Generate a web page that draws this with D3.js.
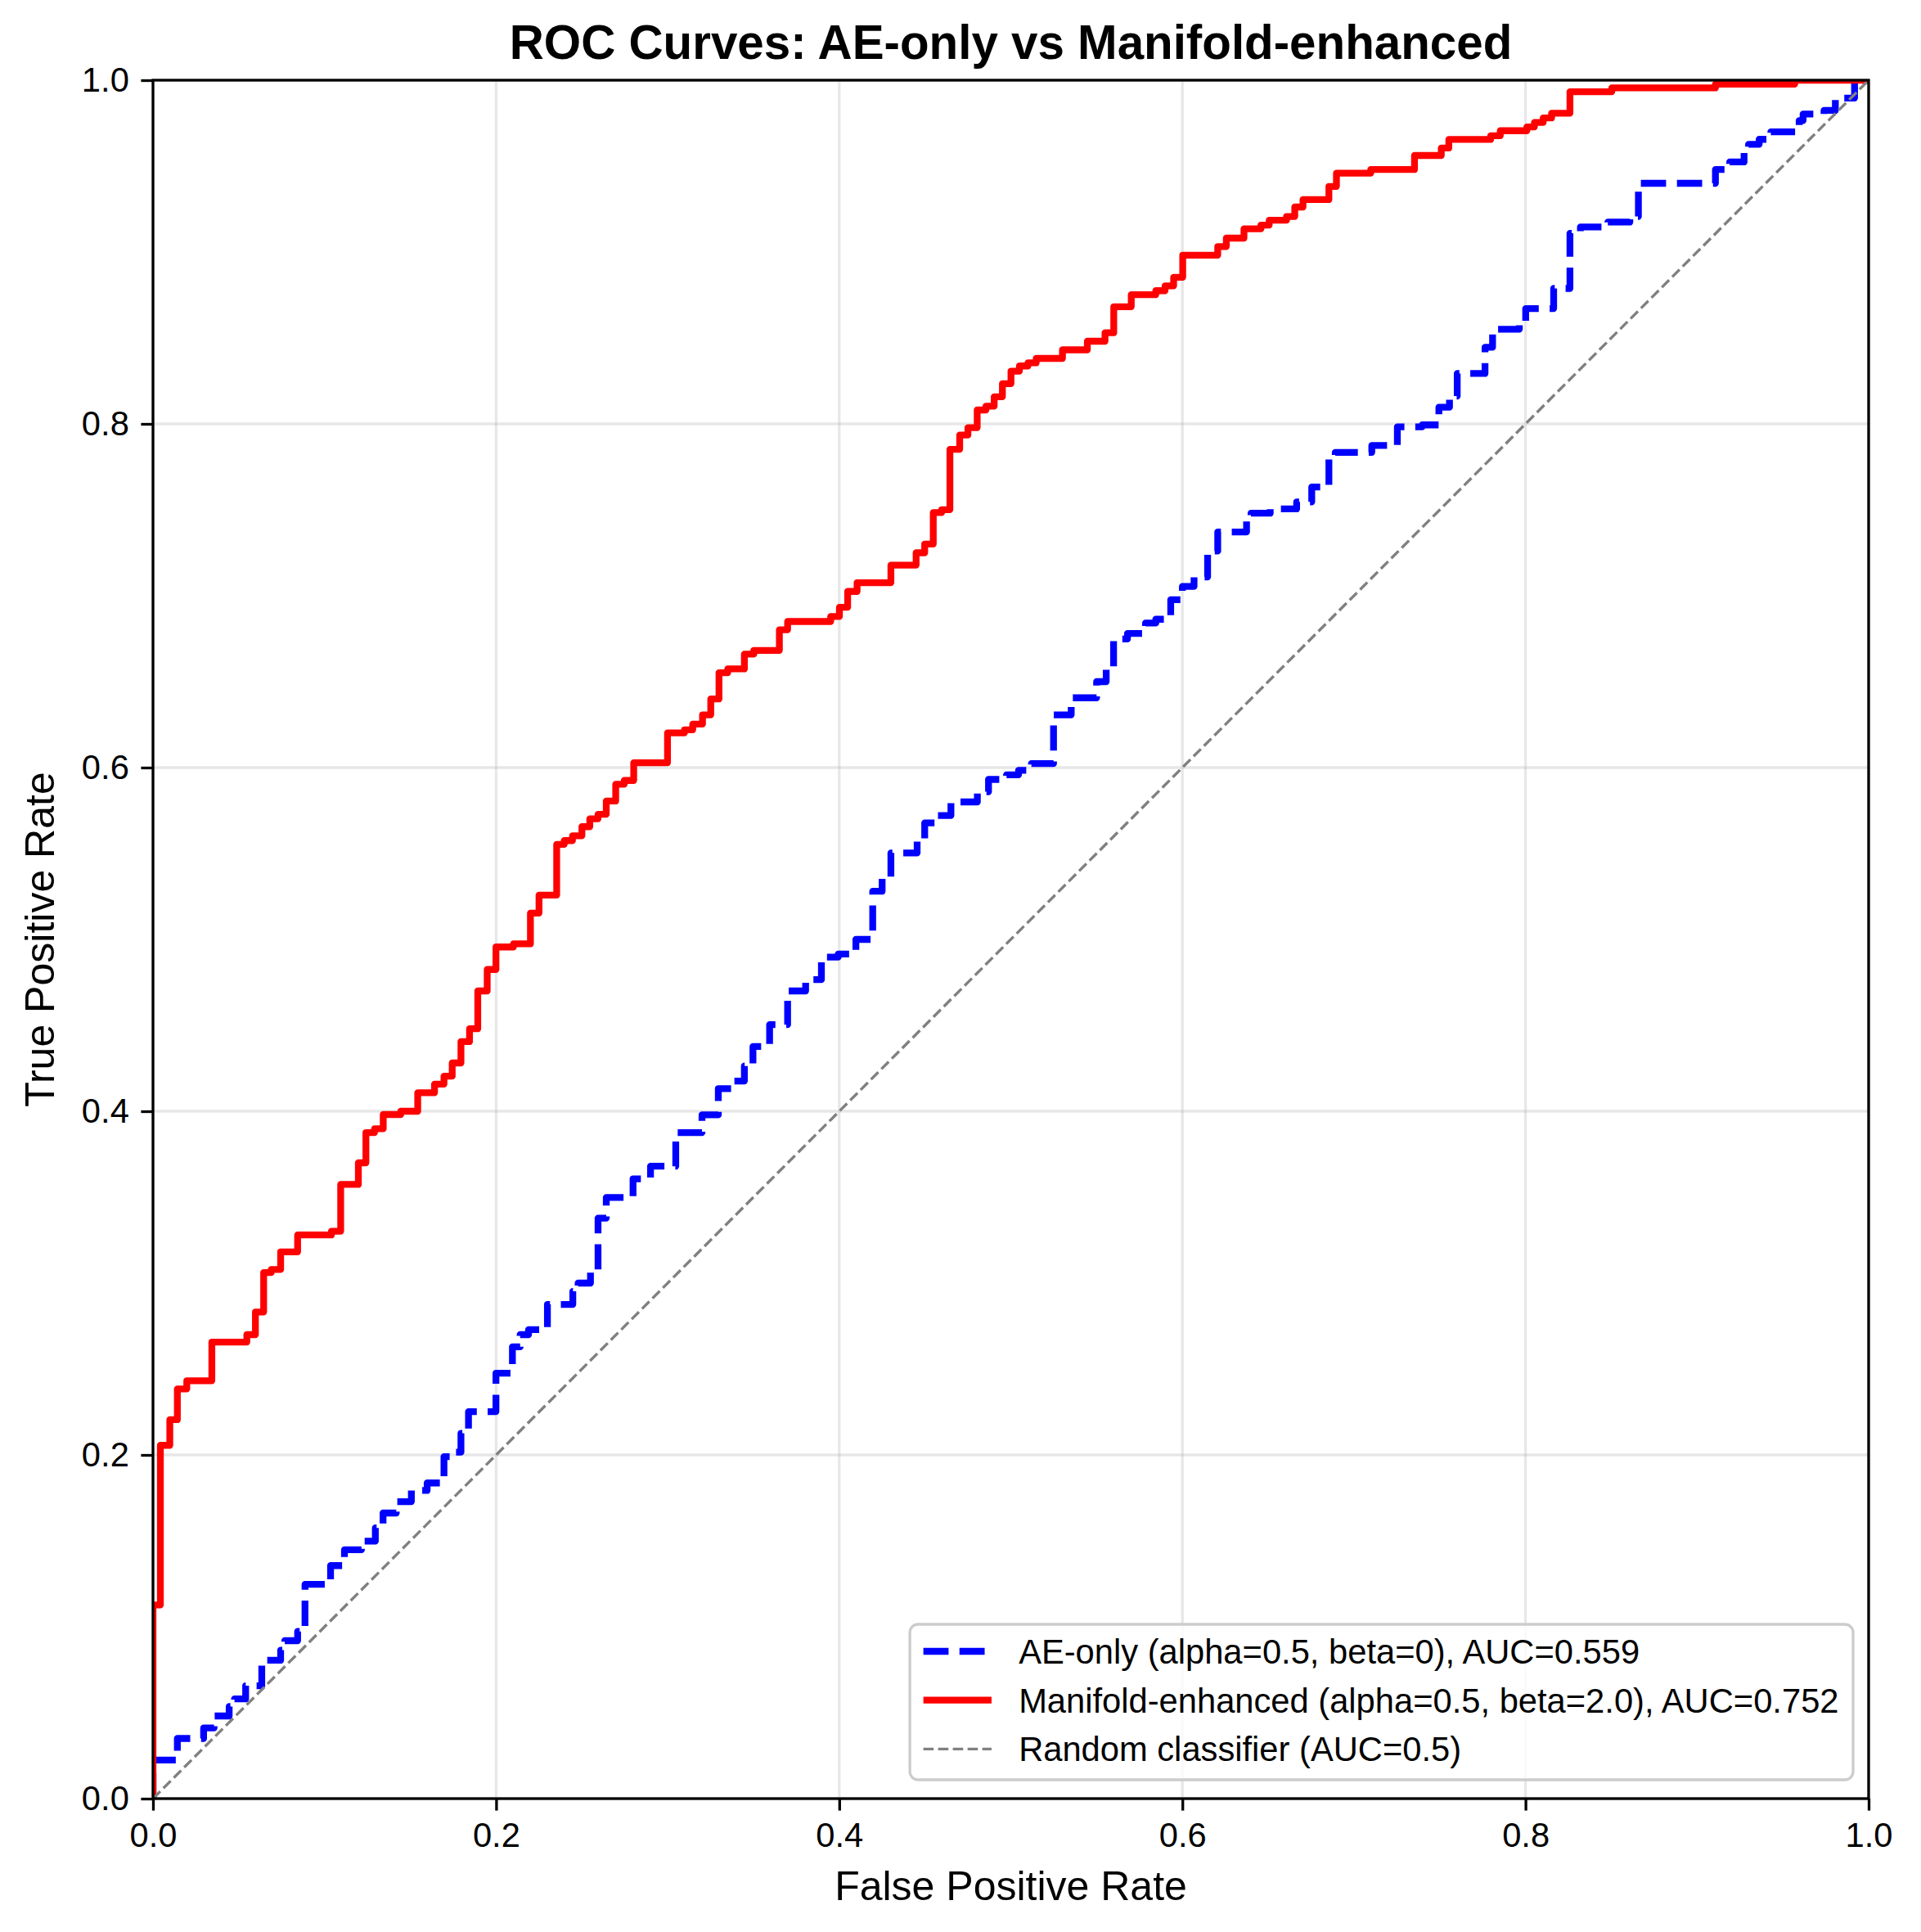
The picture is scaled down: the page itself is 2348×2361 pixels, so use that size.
<!DOCTYPE html>
<html>
<head>
<meta charset="utf-8">
<script src="https://cdn.jsdelivr.net/npm/d3@7"></script>
<style>
  body { margin: 0; background: #ffffff; }
  text { font-family: "Liberation Sans", Arial, sans-serif; }
</style>
</head>
<body>
<div id="chart-container"></div>
<script>
// ROC points: at each fpr the curve rises to tpr
var ae_fpr = [0, 0, 0.0142, 0.0295, 0.0356, 0.0444, 0.0475, 0.0540, 0.0634, 0.0744, 0.0768, 0.0843, 0.0886,
  0.1035, 0.1116, 0.1215, 0.1296, 0.1341, 0.1418, 0.1506, 0.1598, 0.1696, 0.1750, 0.1795, 0.1839, 0.1999,
  0.2095, 0.2140, 0.2189, 0.2299, 0.2447, 0.2478, 0.2550, 0.2594, 0.2642, 0.2798, 0.2900, 0.3047, 0.3200,
  0.3295, 0.3385, 0.3447, 0.3497, 0.3594, 0.3699, 0.3804, 0.3896, 0.3994, 0.4097, 0.4195, 0.4250, 0.4301,
  0.4454, 0.4498, 0.4575, 0.4651, 0.4805, 0.4870, 0.4975, 0.5045, 0.5120, 0.5249, 0.5352, 0.5500, 0.5556,
  0.5599, 0.5680, 0.5785, 0.5845, 0.5932, 0.6000, 0.6068, 0.6147, 0.6206, 0.6374, 0.6400, 0.6512, 0.6666,
  0.6754, 0.6854, 0.6891, 0.7104, 0.7253, 0.7398, 0.7495, 0.7557, 0.7602, 0.7764, 0.7808, 0.7964, 0.8001,
  0.8164, 0.8259, 0.8320, 0.8480, 0.8608, 0.8658, 0.9107, 0.9190, 0.9274, 0.9300, 0.9362, 0.9430, 0.9595,
  0.9618, 0.9740, 0.9806, 0.9918, 1];
var ae_tpr = [0, 0.0224, 0.0350, 0.0411, 0.0481, 0.0536, 0.0580, 0.0657, 0.0805, 0.0864, 0.0919, 0.0973, 0.1247,
  0.1356, 0.1448, 0.1498, 0.1575, 0.1662, 0.1728, 0.1793, 0.1837, 0.1990, 0.2016, 0.2126, 0.2252, 0.2476,
  0.2629, 0.2700, 0.2729, 0.2876, 0.2952, 0.3000, 0.3061, 0.3378, 0.3498, 0.3607, 0.3680, 0.3876, 0.3979,
  0.4132, 0.4176, 0.4263, 0.4377, 0.4504, 0.4700, 0.4766, 0.4897, 0.4915, 0.5000, 0.5280, 0.5356, 0.5503,
  0.5581, 0.5678, 0.5721, 0.5800, 0.5859, 0.5931, 0.5958, 0.5984, 0.6023, 0.6307, 0.6406, 0.6500, 0.6580,
  0.6748, 0.6780, 0.6841, 0.6863, 0.6977, 0.7054, 0.7109, 0.7260, 0.7371, 0.7436, 0.7480, 0.7505, 0.7546,
  0.7633, 0.7808, 0.7834, 0.7874, 0.7983, 0.7994, 0.8097, 0.8162, 0.8293, 0.8446, 0.8551, 0.8595, 0.8671,
  0.8788, 0.9109, 0.9146, 0.9174, 0.9207, 0.9400, 0.9480, 0.9524, 0.9579, 0.9627, 0.9656, 0.9699, 0.9765,
  0.9803, 0.9824, 0.9896, 1.0, 1];

var mf_fpr = [0, 0, 0.0043, 0.0098, 0.0142, 0.0197, 0.0343, 0.0547, 0.0597, 0.0645, 0.0689, 0.0744, 0.0843,
  0.1040, 0.1094, 0.1197, 0.1241, 0.1291, 0.1342, 0.1444, 0.1543, 0.1641, 0.1696, 0.1744, 0.1795, 0.1845,
  0.1893, 0.1948, 0.1999, 0.2101, 0.2200, 0.2250, 0.2353, 0.2397, 0.2445, 0.2500, 0.2546, 0.2594, 0.2642,
  0.2697, 0.2747, 0.2802, 0.2999, 0.3098, 0.3146, 0.3203, 0.3251, 0.3299, 0.3350, 0.3447, 0.3502, 0.3651,
  0.3699, 0.3950, 0.4001, 0.4049, 0.4104, 0.4301, 0.4448, 0.4498, 0.4548, 0.4597, 0.4645, 0.4702, 0.4750,
  0.4804, 0.4855, 0.4903, 0.4951, 0.5001, 0.5050, 0.5100, 0.5148, 0.5301, 0.5446, 0.5549, 0.5600, 0.5702,
  0.5845, 0.5899, 0.5949, 0.6002, 0.6206, 0.6256, 0.6359, 0.6458, 0.6506, 0.6607, 0.6655, 0.6703, 0.6854,
  0.6898, 0.7098, 0.7353, 0.7509, 0.7553, 0.7797, 0.7853, 0.8008, 0.8052, 0.8103, 0.8152, 0.8259, 0.8503,
  0.9107, 0.9569, 1];
var mf_tpr = [0, 0.1127, 0.2056, 0.2205, 0.2384, 0.2432, 0.2657, 0.2700, 0.2832, 0.3061, 0.3079, 0.3182, 0.3280,
  0.3302, 0.3574, 0.3700, 0.3876, 0.3898, 0.3981, 0.4000, 0.4108, 0.4158, 0.4204, 0.4281, 0.4405, 0.4480,
  0.4700, 0.4825, 0.4956, 0.4974, 0.5153, 0.5258, 0.5553, 0.5575, 0.5603, 0.5656, 0.5702, 0.5728, 0.5805,
  0.5903, 0.5925, 0.6028, 0.6202, 0.6220, 0.6253, 0.6307, 0.6399, 0.6552, 0.6574, 0.6660, 0.6682, 0.6802,
  0.6850, 0.6879, 0.6933, 0.7025, 0.7076, 0.7178, 0.7250, 0.7301, 0.7484, 0.7501, 0.7852, 0.7935, 0.7978,
  0.8081, 0.8103, 0.8158, 0.8234, 0.8307, 0.8337, 0.8355, 0.8381, 0.8431, 0.8481, 0.8530, 0.8682, 0.8752,
  0.8775, 0.8803, 0.8853, 0.8982, 0.9032, 0.9081, 0.9135, 0.9157, 0.9185, 0.9207, 0.9262, 0.9305, 0.9382,
  0.9459, 0.9480, 0.9562, 0.9605, 0.9655, 0.9677, 0.9706, 0.9728, 0.9754, 0.9780, 0.9808, 0.9933, 0.9955,
  0.9977, 1.0, 1];

var random_fpr = [0, 1];
var random_tpr = [0, 1];

var tick_values = [0, 0.2, 0.4, 0.6, 0.8, 1.0];
var legend_labels = ["AE-only (alpha=0.5, beta=0), AUC=0.559",
  "Manifold-enhanced (alpha=0.5, beta=2.0), AUC=0.752",
  "Random classifier (AUC=0.5)"];

var svg_width = 2348;
var svg_height = 2361;
var margin = {top: 98, right: 64, bottom: 163, left: 187};
var width = svg_width - margin.left - margin.right;
var height = svg_height - margin.top - margin.bottom;

var tick_font = 41.7;
var label_font = 50;
var title_font = 58.3;
var spine_width = 3.3;

var svg = d3.select("#chart-container")
  .append("svg")
  .attr("width", svg_width)
  .attr("height", svg_height);

svg.append("rect")
  .attr("width", svg_width)
  .attr("height", svg_height)
  .attr("fill", "#ffffff");

var g = svg.append("g")
  .attr("transform", "translate(" + margin.left + "," + margin.top + ")");

var x = d3.scaleLinear().domain([0, 1]).range([0, width]);
var y = d3.scaleLinear().domain([0, 1]).range([height, 0]);

g.append("clipPath")
  .attr("id", "plot-clip")
  .append("rect")
  .attr("width", width)
  .attr("height", height);

// grid
g.selectAll(".grid-x")
  .data(tick_values)
  .enter()
  .append("line")
  .attr("class", "grid-x")
  .attr("x1", function(d) { return x(d); })
  .attr("x2", function(d) { return x(d); })
  .attr("y1", 0)
  .attr("y2", height)
  .attr("stroke", "#b0b0b0")
  .attr("stroke-opacity", 0.3)
  .attr("stroke-width", spine_width);

g.selectAll(".grid-y")
  .data(tick_values)
  .enter()
  .append("line")
  .attr("class", "grid-y")
  .attr("x1", 0)
  .attr("x2", width)
  .attr("y1", function(d) { return y(d); })
  .attr("y2", function(d) { return y(d); })
  .attr("stroke", "#b0b0b0")
  .attr("stroke-opacity", 0.3)
  .attr("stroke-width", spine_width);

function to_points(fpr, tpr) {
  return fpr.map(function(d, i) { return [d, tpr[i]]; });
}

var step_line = d3.line()
  .x(function(d) { return x(d[0]); })
  .y(function(d) { return y(d[1]); })
  .curve(d3.curveStepAfter);

var straight_line = d3.line()
  .x(function(d) { return x(d[0]); })
  .y(function(d) { return y(d[1]); });

var curves = g.append("g").attr("clip-path", "url(#plot-clip)");

curves.append("path")
  .attr("d", step_line(to_points(ae_fpr, ae_tpr)))
  .attr("fill", "none")
  .attr("stroke", "#0000ff")
  .attr("stroke-width", 8.3)
  .attr("stroke-dasharray", "30.8,13.3")
  .attr("stroke-linejoin", "round");

curves.append("path")
  .attr("d", step_line(to_points(mf_fpr, mf_tpr)))
  .attr("fill", "none")
  .attr("stroke", "#ff0000")
  .attr("stroke-width", 8.3)
  .attr("stroke-linejoin", "round")
  .attr("stroke-linecap", "square");

curves.append("path")
  .attr("d", straight_line(to_points(random_fpr, random_tpr)))
  .attr("fill", "none")
  .attr("stroke", "#808080")
  .attr("stroke-width", 3.4)
  .attr("stroke-dasharray", "12.6,5.4");

// axes
var x_axis = d3.axisBottom(x)
  .tickValues(tick_values)
  .tickFormat(d3.format(".1f"))
  .tickSize(14.6)
  .tickPadding(14.6);

var y_axis = d3.axisLeft(y)
  .tickValues(tick_values)
  .tickFormat(d3.format(".1f"))
  .tickSize(14.6)
  .tickPadding(14.6);

var gx = g.append("g")
  .attr("transform", "translate(0," + height + ")")
  .call(x_axis);
var gy = g.append("g").call(y_axis);

[gx, gy].forEach(function(a) {
  a.select(".domain").remove();
  a.selectAll(".tick line")
    .attr("stroke", "#000000")
    .attr("stroke-width", spine_width);
  a.selectAll(".tick text")
    .attr("fill", "#000000")
    .style("font-size", tick_font + "px");
});

// spines
g.append("rect")
  .attr("width", width)
  .attr("height", height)
  .attr("fill", "none")
  .attr("stroke", "#000000")
  .attr("stroke-width", spine_width);

// labels
g.append("text")
  .attr("x", width / 2)
  .attr("y", height + 124)
  .attr("text-anchor", "middle")
  .style("font-size", label_font + "px")
  .text("False Positive Rate");

g.append("text")
  .attr("transform", "translate(" + (66 - margin.left) + "," + (height / 2) + ") rotate(-90)")
  .attr("text-anchor", "middle")
  .style("font-size", label_font + "px")
  .text("True Positive Rate");

g.append("text")
  .attr("x", width / 2)
  .attr("y", -26)
  .attr("text-anchor", "middle")
  .style("font-size", title_font + "px")
  .style("font-weight", "bold")
  .text("ROC Curves: AE-only vs Manifold-enhanced");

// legend, lower right
var legend_styles = [
  {color: "#0000ff", width: 8.3, dash: "30.8,13.3"},
  {color: "#ff0000", width: 8.3, dash: null},
  {color: "#808080", width: 3.4, dash: "12.6,5.4"}
];

var legend = g.append("g");
var legend_box = legend.append("rect");

var row_gap = 59.7;
var legend_h = 190;
var legend_bottom = height - 23;
var legend_top = legend_bottom - legend_h;

var texts = legend.selectAll(".legend-text")
  .data(legend_labels)
  .enter()
  .append("text")
  .attr("class", "legend-text")
  .style("font-size", tick_font + "px")
  .attr("fill", "#000000")
  .text(function(d) { return d; });

var max_len = 0;
texts.each(function() { max_len = Math.max(max_len, this.getComputedTextLength()); });

var legend_w = 133 + max_len + 17.5;
var legend_right = width - 19;
var legend_left = legend_right - legend_w;

legend_box
  .attr("x", legend_left)
  .attr("y", legend_top)
  .attr("width", legend_w)
  .attr("height", legend_h)
  .attr("rx", 10)
  .attr("ry", 10)
  .attr("fill", "#ffffff")
  .attr("fill-opacity", 0.8)
  .attr("stroke", "#cccccc")
  .attr("stroke-width", spine_width);

texts
  .attr("x", legend_left + 133)
  .attr("y", function(d, i) { return legend_top + 33 + i * row_gap + 15; });

legend.selectAll(".legend-line")
  .data(legend_styles)
  .enter()
  .append("line")
  .attr("class", "legend-line")
  .attr("x1", legend_left + 16.5)
  .attr("x2", legend_left + 16.5 + 83.3)
  .attr("y1", function(d, i) { return legend_top + 33 + i * row_gap; })
  .attr("y2", function(d, i) { return legend_top + 33 + i * row_gap; })
  .attr("stroke", function(d) { return d.color; })
  .attr("stroke-width", function(d) { return d.width; })
  .attr("stroke-dasharray", function(d) { return d.dash; });
</script>
</body>
</html>
